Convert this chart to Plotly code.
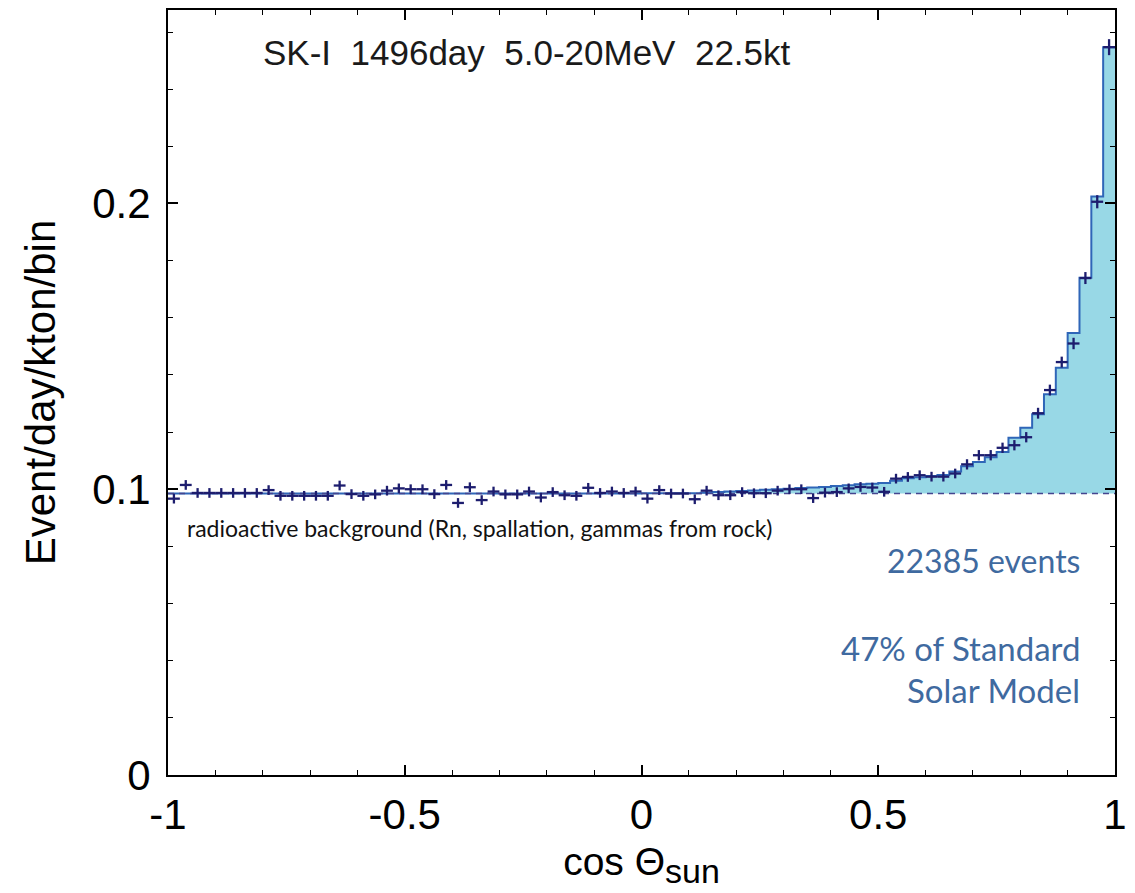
import plotly.graph_objects as go

# ---------------- data ----------------
n_bins = 80
x_min, x_max = -1.0, 1.0
bin_edges = [x_min + (x_max - x_min) * i / n_bins for i in range(n_bins + 1)]
bin_centers = [(bin_edges[i] + bin_edges[i + 1]) / 2 for i in range(n_bins)]
bin_half = [(bin_edges[i + 1] - bin_edges[i]) / 2 for i in range(n_bins)]

background_level = 0.0985

# Monte Carlo expectation (signal + background), per bin
mc_values = (
    [0.0985] * 40
    + [0.0986] * 5
    + [0.0988, 0.0990, 0.0992, 0.0994, 0.0996, 0.0998, 0.1000, 0.1002, 0.1004, 0.1006,
       0.1008, 0.1011, 0.1014, 0.1017, 0.1019, 0.1022, 0.1030, 0.1038, 0.1042, 0.1046,
       0.1050, 0.1062, 0.1080, 0.1095, 0.1112, 0.1130, 0.1180, 0.1215, 0.1262, 0.1332,
       0.1425, 0.1547, 0.1740, 0.2024, 0.2547]
)

# Measured data, per bin
data_values = [
    0.0967, 0.1015, 0.0987, 0.0987, 0.0987, 0.0987, 0.0987, 0.0987, 0.0997, 0.0977,
    0.0977, 0.0977, 0.0977, 0.0977, 0.1013, 0.0983, 0.0977, 0.0982, 0.0995, 0.1003,
    0.1000, 0.1000, 0.0983, 0.1015, 0.0952, 0.1007, 0.0962, 0.0992, 0.0982, 0.0982,
    0.0992, 0.0971, 0.0990, 0.0979, 0.0977, 0.1005, 0.0987, 0.0992, 0.0987, 0.0992,
    0.0967, 0.0997, 0.0985, 0.0985, 0.0965, 0.0995, 0.0979, 0.0979, 0.0990, 0.0986,
    0.0986, 0.0995, 0.1000, 0.1000, 0.0969, 0.0988, 0.0990, 0.1003, 0.1008, 0.1006,
    0.0991, 0.1037, 0.1043, 0.1049, 0.1044, 0.1044, 0.1055, 0.1087, 0.1119, 0.1119,
    0.1145, 0.1154, 0.1182, 0.1266, 0.1347, 0.1445, 0.1510, 0.1739, 0.2006, 0.2547,
]

data_errors = (
    [0.0017] * 67
    + [0.0018] * 6
    + [0.0019] * 3
    + [0.0020, 0.0021, 0.0023, 0.0028]
)

x_tick_vals = [-1, -0.5, 0, 0.5, 1]
x_tick_text = ["-1", "-0.5", "0", "0.5", "1"]
y_tick_vals = [0, 0.1, 0.2]
y_tick_text = ["0", "0.1", "0.2"]

# ---------------- styles ----------------
NAVY = "#1d1d6e"
MC_BLUE = "#2f66b8"
FILL = "#98d8e6"
DASH = "#45458f"
TEXT_BLUE = "#3f6aa0"
AX_FONT = "Liberation Sans, Arial, Helvetica, sans-serif"
CAL_FONT = "Lato, Open Sans, sans-serif"

fig = go.Figure()

# invisible background reference for the fill
fig.add_trace(go.Scatter(
    x=[x_min, x_max], y=[background_level, background_level],
    mode="lines", line=dict(width=0, color="rgba(0,0,0,0)"),
    hoverinfo="skip", showlegend=False,
))

# MC step histogram, filled down to the background level
fig.add_trace(go.Scatter(
    x=bin_edges, y=mc_values + [mc_values[-1]],
    mode="lines", line=dict(shape="hv", color=MC_BLUE, width=2),
    fill="tonexty", fillcolor=FILL,
    showlegend=False,
))

# dashed background line
fig.add_trace(go.Scatter(
    x=[x_min, x_max], y=[background_level, background_level],
    mode="lines", line=dict(color=DASH, width=1.5, dash="6px,5px"),
    showlegend=False,
))

# data points with error bars
fig.add_trace(go.Scatter(
    x=bin_centers, y=data_values,
    mode="markers", marker=dict(size=2, color=NAVY),
    error_x=dict(type="data", array=bin_half, color=NAVY, thickness=2.3, width=0),
    error_y=dict(type="data", array=data_errors, color=NAVY, thickness=2.3, width=0),
    showlegend=False,
))

fig.update_layout(
    width=1135, height=893,
    margin=dict(l=168, r=14, t=8, b=118),
    paper_bgcolor="white", plot_bgcolor="white",
    font=dict(family=AX_FONT, color="black"),
    xaxis=dict(
        range=[x_min, x_max],
        tickvals=x_tick_vals, ticktext=x_tick_text,
        ticks="inside", ticklen=10, tickwidth=1.5, tickcolor="black",
        minor=dict(dtick=0.1, ticks="inside", ticklen=5, tickwidth=1.2, tickcolor="black"),
        showline=True, linewidth=2, linecolor="black", mirror="allticks",
        showgrid=False, zeroline=False,
        tickfont=dict(size=42, family=AX_FONT),
        ticklabelstandoff=2,
        title=dict(text="\u00a0\u00a0\u00a0\u00a0cos Θ<sub><span style='font-size:34px'>sun</span></sub>",
                   font=dict(size=39, family=AX_FONT), standoff=10),
    ),
    yaxis=dict(
        range=[0, 0.2677],
        tickvals=y_tick_vals, ticktext=y_tick_text,
        ticks="inside", ticklen=10, tickwidth=1.5, tickcolor="black",
        minor=dict(dtick=0.02, ticks="inside", ticklen=5, tickwidth=1.2, tickcolor="black"),
        showline=True, linewidth=2, linecolor="black", mirror="allticks",
        showgrid=False, zeroline=False,
        tickfont=dict(size=42, family=AX_FONT),
        ticklabelstandoff=7,
        title=dict(text="Event/day/kton/bin", font=dict(size=42, family=AX_FONT), standoff=24),
    ),
)

annotations = [
    dict(text="SK-I\u00a0\u00a01496day\u00a0\u00a05.0-20MeV\u00a0\u00a022.5kt",
         x=0.0987, y=0.945, xanchor="left", yanchor="middle",
         font=dict(size=35, family=AX_FONT, color="#1a1a1a")),
    dict(text="radioactive background (Rn, spallation, gammas from rock)",
         x=0.0179, y=0.3233, xanchor="left", yanchor="middle",
         font=dict(size=23, family=CAL_FONT, color="#111111")),
    dict(text="22385 events", x=0.965, y=0.2803, xanchor="right", yanchor="middle",
         font=dict(size=32, family=CAL_FONT, color=TEXT_BLUE)),
    dict(text="47% of Standard", x=0.965, y=0.1656, xanchor="right", yanchor="middle",
         font=dict(size=33, family=CAL_FONT, color=TEXT_BLUE)),
    dict(text="Solar Model", x=0.965, y=0.1108, xanchor="right", yanchor="middle",
         font=dict(size=33, family=CAL_FONT, color=TEXT_BLUE)),
]
for a in annotations:
    fig.add_annotation(xref="paper", yref="paper", showarrow=False, **a)

fig.write_html("out.html")
